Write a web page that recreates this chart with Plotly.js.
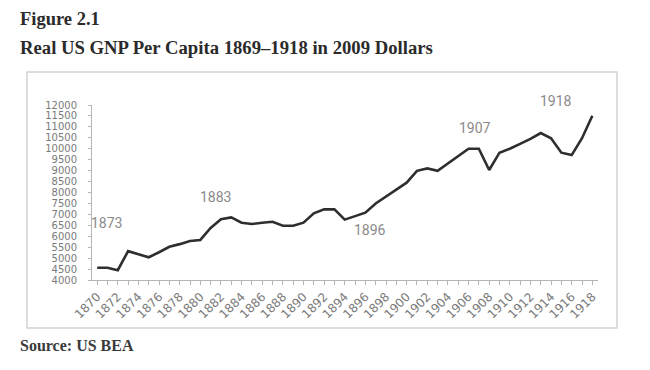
<!DOCTYPE html>
<html>
<head>
<meta charset="utf-8">
<script src="https://cdn.plot.ly/plotly-3.0.1.min.js"></script>
<style>
html,body{margin:0;padding:0;background:#fff;}
#chart{width:650px;height:370px;}
</style>
</head>
<body>
<div id="chart"></div>
<script>
// Data (real GNP per capita, 2009 dollars)
var years = [1870,1871,1872,1873,1874,1875,1876,1877,1878,1879,
             1880,1881,1882,1883,1884,1885,1886,1887,1888,1889,
             1890,1891,1892,1893,1894,1895,1896,1897,1898,1899,
             1900,1901,1902,1903,1904,1905,1906,1907,1908,1909,
             1910,1911,1912,1913,1914,1915,1916,1917,1918];
var gnpPerCapita = [4560,4560,4450,5320,5180,5040,5270,5520,5640,5780,
                    5830,6380,6780,6860,6620,6560,6620,6660,6480,6480,
                    6620,7050,7230,7230,6760,6930,7080,7500,7810,8120,
                    8450,8990,9100,8990,9330,9650,10000,10000,9030,9820,
                    10000,10220,10450,10720,10480,9820,9710,10480,11510];
var yTicks = [4000,4500,5000,5500,6000,6500,7000,7500,8000,8500,9000,9500,10000,10500,11000,11500,12000];
var xTickLabels = years.map(function(y){ return (y % 2 === 0) ? String(y) : ''; });
var markerLabels = ['1873','1883','1896','1907','1918'];
var markerX = [1870.95,1881.45,1896.45,1906.65,1914.45];
var markerY = [6600,7800,6280,10950,11950];

var yTickFont = {family:'DejaVu Sans, Liberation Sans, sans-serif', size:10, color:'#7a7a7a'};
var xTickFont = {family:'DejaVu Sans, Liberation Sans, sans-serif', size:12, color:'#7a7a7a'};
var noteFont = {family:'Liberation Sans Narrow, Roboto, Liberation Sans, sans-serif', size:14, color:'#8a8a8a'};
var serif = 'Liberation Serif, DejaVu Serif, serif';

var annotations = markerLabels.map(function(t,i){
  return {text:t, x:markerX[i], y:markerY[i], xref:'x', yref:'y', showarrow:false,
          xanchor:'center', yanchor:'middle', font:noteFont};
});
// last label sits above the plotting area, so anchor it by yshift
annotations[4].yshift = 5;
annotations.push({text:'<b>Figure 2.1</b>', xref:'paper', yref:'paper', x:-0.146, y:1.491,
  xanchor:'left', yanchor:'middle', showarrow:false, font:{family:serif, size:18.5, color:'#2b2b2b'}});
annotations.push({text:'<b>Real US GNP Per Capita 1869–1918 in 2009 Dollars</b>', xref:'paper', yref:'paper', x:-0.146, y:1.331,
  xanchor:'left', yanchor:'middle', showarrow:false, font:{family:serif, size:18.7, color:'#2b2b2b'}});
annotations.push({text:'<b>Source: US BEA</b>', xref:'paper', yref:'paper', x:-0.146, y:-0.377,
  xanchor:'left', yanchor:'middle', showarrow:false, font:{family:serif, size:16, color:'#3a3a3a'}});

var trace = {
  x: years, y: gnpPerCapita, type:'scatter', mode:'lines',
  line:{color:'#2e2e2e', width:2.6}, hoverinfo:'skip'
};

var layout = {
  width:650, height:370,
  margin:{l:92, r:52, t:105, b:90, pad:0},
  paper_bgcolor:'#ffffff', plot_bgcolor:'#ffffff',
  showlegend:false,
  xaxis:{
    range:[1869.5,1918.55], tickmode:'array', tickvals:years, ticktext:xTickLabels,
    tickangle:-45, ticks:'outside', ticklen:4, tickcolor:'#b5b5b5', tickwidth:1,
    showline:true, linecolor:'#b5b5b5', linewidth:1, showgrid:false, zeroline:false,
    tickfont:xTickFont, fixedrange:true
  },
  yaxis:{
    range:[4000,12000], tickmode:'array', tickvals:yTicks, ticktext:yTicks.map(String),
    ticks:'outside', ticklen:3, tickcolor:'#b5b5b5', tickwidth:1,
    showline:true, linecolor:'#b5b5b5', linewidth:1, showgrid:false, zeroline:false,
    tickfont:yTickFont, ticklabelstandoff:9, fixedrange:true
  },
  shapes:[{type:'rect', xref:'paper', yref:'paper', x0:-0.1285, x1:1.0375, y0:-0.2743, y1:1.1886,
           line:{color:'#d2d2d2', width:1.5}, fillcolor:'rgba(0,0,0,0)', layer:'below'}],
  annotations:annotations
};

Plotly.newPlot('chart', [trace], layout, {staticPlot:true, displayModeBar:false});
</script>
</body>
</html>
